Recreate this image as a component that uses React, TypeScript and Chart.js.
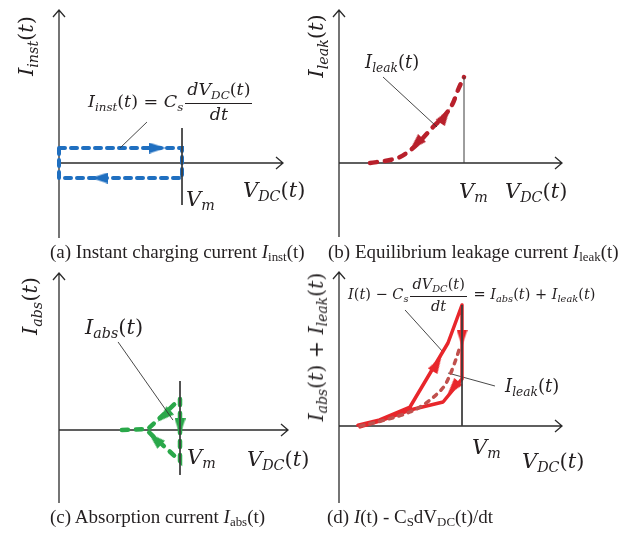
import React, { useEffect, useRef } from "react";
import { Chart, registerables } from "chart.js";
Chart.register(...registerables);

// ---------- data (V normalised to Vm = 1, currents in arbitrary units) ----------
// (a) instant charging current loop
const instV = [0, 1, 1, 0, 0];
const instI = [1, 1, -1, -1, 1];
const instArrowV = [0.8, 0.33];
const instArrowI = [1, -1];
const instArrowDir = [0, 180];

// (b) equilibrium leakage current
const leakBV = [0.248, 0.408, 0.488, 0.592, 0.672, 0.752, 0.848, 0.912, 0.952, 1.0];
const leakBI = [0, 0.035, 0.07, 0.174, 0.291, 0.419, 0.558, 0.698, 0.849, 1.0];
const leakBArrowV = [0.848, 0.616];
const leakBArrowI = [0.547, 0.221];
const leakBArrowDir = [-56, 135];

// (c) absorption current
const absV = [0.52, 0.735, 1.0, 1.0, 0.74];
const absI = [0, 0.03, 1.0, -1.0, -0.06];
const absArrowV = [0.868, 1.0, 0.793];
const absArrowI = [0.45, 0.1, -0.29];
const absArrowDir = [138, 90, 223];

// (d) total (absorption + leakage) loop and leakage curve
const totV = [0.154, 0.33, 0.577, 0.886, 1.0, 1.0, 0.846, 0.577, 0.358, 0.171];
const totI = [0.01, 0.07, 0.221, 0.965, 1.407, 0.547, 0.279, 0.186, 0.07, -0.01];
const leakDV = [0.171, 0.374, 0.577, 0.659, 0.74, 0.805, 0.862, 0.902, 0.943, 0.984];
const leakDI = [0, 0.07, 0.163, 0.221, 0.302, 0.384, 0.477, 0.593, 0.744, 0.919];
const totArrowV = [0.797, 1.0, 0.927];
const totArrowI = [0.721, 1.023, 0.442];
const totArrowDir = [-59, 90, 130];

// guide lines (Vm markers and label leaders), [v0, v1], [i0, i1]
const vmA = { v: [1, 1], i: [2.33, -2.8] };
const leaderA = { v: [0.496, 0.715], i: [1, 2.73] };
const vmB = { v: [1, 1], i: [0, 1.0] };
const leaderB = { v: [0.352, 0.784], i: [1.0, 0.419] };
const vmC = { v: [1, 1], i: [1.58, -1.45] };
const leaderC = { v: [0.488, 0.942], i: [2.84, 0.32] };
const vmD = { v: [1, 1], i: [1.407, 0] };
const leaderD1 = { v: [0.537, 0.846], i: [1.349, 0.86] };
const leaderD2 = { v: [0.886, 1.268], i: [0.616, 0.465] };

// ---------- helpers ----------
const pts = (xs: number[], ys: number[]) => xs.map((x, k) => ({ x, y: ys[k] }));

const INK = "#231f20";
const AXIS = "#2b2b2b";

function arrowImage(color: string, len = 17, wid = 11) {
  const c = document.createElement("canvas");
  c.width = len;
  c.height = wid;
  const g = c.getContext("2d")!;
  g.fillStyle = color;
  g.beginPath();
  g.moveTo(0, 0);
  g.lineTo(len, wid / 2);
  g.lineTo(0, wid);
  g.closePath();
  g.fill();
  return c;
}

type Geo = {
  left: number; top: number; w: number; h: number;
  ox: number; oy: number; ux: number; uy: number;
  yTop: number; yBot: number; xRight: number;
};

const axesPlugin = (geo: Geo) => ({
  id: "axesArrows",
  beforeDatasetsDraw(chart: any) {
    const ctx = chart.ctx;
    const x0 = chart.scales.x.getPixelForValue(0);
    const y0 = chart.scales.y.getPixelForValue(0);
    ctx.save();
    ctx.strokeStyle = AXIS;
    ctx.lineWidth = 1.3;
    ctx.beginPath();
    ctx.moveTo(x0, geo.yBot);
    ctx.lineTo(x0, geo.yTop);
    ctx.moveTo(x0, y0);
    ctx.lineTo(geo.xRight, y0);
    ctx.moveTo(x0 - 6, geo.yTop + 7);
    ctx.lineTo(x0, geo.yTop);
    ctx.lineTo(x0 + 6, geo.yTop + 7);
    ctx.moveTo(geo.xRight - 7, y0 - 6);
    ctx.lineTo(geo.xRight, y0);
    ctx.lineTo(geo.xRight - 7, y0 + 6);
    ctx.stroke();
    ctx.restore();
  },
});

const guide = (g: { v: number[]; i: number[] }, color = "#3c3c3c", width = 1) => ({
  data: pts(g.v, g.i),
  showLine: true,
  borderColor: color,
  borderWidth: width,
  pointRadius: 0,
});

function Panel({ geo, datasets }: { geo: Geo; datasets: () => any[] }) {
  const ref = useRef<HTMLCanvasElement>(null);
  useEffect(() => {
    const xmin = -geo.ox / geo.ux;
    const xmax = (geo.w - geo.ox) / geo.ux;
    const ymax = geo.oy / geo.uy;
    const ymin = -(geo.h - geo.oy) / geo.uy;
    const chart = new Chart(ref.current!, {
      type: "scatter",
      data: { datasets: datasets() },
      options: {
        animation: false,
        responsive: false,
        maintainAspectRatio: false,
        layout: { padding: 0, autoPadding: false },
        events: [],
        scales: {
          x: { type: "linear", display: false, min: xmin, max: xmax },
          y: { type: "linear", display: false, min: ymin, max: ymax },
        },
        plugins: { legend: { display: false }, tooltip: { enabled: false } },
        elements: { line: { tension: 0 } },
      } as any,
      plugins: [axesPlugin(geo)],
    });
    return () => chart.destroy();
  }, []);
  return (
    <canvas
      ref={ref}
      width={geo.w}
      height={geo.h}
      style={{ position: "absolute", left: geo.left, top: geo.top, width: geo.w, height: geo.h }}
    />
  );
}

const GEO_A: Geo = { left: 0, top: 0, w: 320, h: 260, ox: 59, oy: 163, ux: 123, uy: 15, yTop: 10, yBot: 238, xRight: 283 };
const GEO_B: Geo = { left: 320, top: 0, w: 320, h: 260, ox: 19, oy: 163, ux: 125, uy: 86, yTop: 10, yBot: 237, xRight: 242 };
const GEO_C: Geo = { left: 0, top: 260, w: 320, h: 273, ox: 59, oy: 170, ux: 121, uy: 31, yTop: 13, yBot: 243, xRight: 288 };
const GEO_D: Geo = { left: 320, top: 260, w: 320, h: 273, ox: 19, oy: 166, ux: 123, uy: 86, yTop: 12, yBot: 243, xRight: 242 };

const BLUE = "#1f6fc0";
const DARKRED = "#b8202b";
const GREEN = "#2aa84a";
const RED = "#e8262b";
const ROSE = "#c0504d";

const arrowSet = (v: number[], i: number[], dir: number[], color: string) => ({
  data: pts(v, i),
  showLine: false,
  pointStyle: arrowImage(color),
  pointRotation: dir,
  pointRadius: 5,
});

const dsA = () => [
  guide(vmA),
  guide(leaderA, "#333", 0.9),
  {
    data: pts(instV, instI),
    showLine: true,
    borderColor: BLUE,
    borderWidth: 4,
    borderDash: [6, 6],
    borderCapStyle: "round",
    pointRadius: 0,
  },
  arrowSet(instArrowV, instArrowI, instArrowDir, BLUE),
];

const dsB = () => [
  guide(vmB),
  guide(leaderB, "#333", 0.9),
  {
    data: pts(leakBV, leakBI),
    showLine: true,
    borderColor: DARKRED,
    borderWidth: 4.5,
    borderDash: [7, 8],
    borderCapStyle: "round",
    cubicInterpolationMode: "monotone",
    pointRadius: 0,
  },
  arrowSet(leakBArrowV, leakBArrowI, leakBArrowDir, DARKRED),
];

const dsC = () => [
  guide(vmC),
  guide(leaderC, "#333", 0.9),
  {
    data: pts(absV, absI),
    showLine: true,
    borderColor: GREEN,
    borderWidth: 4.5,
    borderDash: [6, 8],
    borderCapStyle: "round",
    pointRadius: 0,
  },
  arrowSet(absArrowV, absArrowI, absArrowDir, GREEN),
];

const dsD = () => [
  guide(vmD),
  {
    data: pts(leakDV, leakDI),
    showLine: true,
    borderColor: ROSE,
    borderWidth: 3.5,
    borderDash: [4, 6],
    borderCapStyle: "round",
    cubicInterpolationMode: "monotone",
    pointRadius: 0,
  },
  {
    data: pts(totV, totI),
    showLine: true,
    borderColor: RED,
    borderWidth: 3.5,
    borderJoinStyle: "round",
    borderCapStyle: "round",
    pointRadius: 0,
  },
  guide(leaderD1, "#333", 0.9),
  guide(leaderD2, "#333", 0.9),
  arrowSet(totArrowV, totArrowI, totArrowDir, RED),
];

// ---------- text helpers ----------
const MATH = "'DejaVu Serif', serif";
const CAP = "'Liberation Serif', 'Times New Roman', serif";

const Sub = ({ children }: { children: any }) => (
  <span style={{ fontSize: "0.68em", verticalAlign: "-0.3em", fontStyle: "italic" }}>{children}</span>
);
const Fn = ({ b, s }: { b: string; s?: string }) => (
  <span>
    <i>{b}</i>
    {s ? <Sub>{s}</Sub> : null}(<i>t</i>)
  </span>
);
const Txt = ({ x, y, size, children, font = MATH }: any) => (
  <div
    style={{
      position: "absolute",
      left: x,
      top: y,
      fontSize: size,
      fontFamily: font,
      color: INK,
      whiteSpace: "nowrap",
      lineHeight: 1,
    }}
  >
    {children}
  </div>
);
const YLab = ({ cx, cy, size, children }: any) => (
  <div
    style={{
      position: "absolute",
      left: cx,
      top: cy,
      fontSize: size,
      fontFamily: MATH,
      color: INK,
      whiteSpace: "nowrap",
      lineHeight: 1,
      transform: "translate(-50%, -50%) rotate(-90deg)",
    }}
  >
    {children}
  </div>
);
const Frac = ({ num, den }: any) => (
  <span
    style={{
      display: "inline-flex",
      flexDirection: "column",
      alignItems: "center",
      verticalAlign: "middle",
      margin: "0 2px",
    }}
  >
    <span style={{ borderBottom: `1.4px solid ${INK}`, padding: "0 2px 2px" }}>{num}</span>
    <span style={{ paddingTop: 2 }}>{den}</span>
  </span>
);
const CapSub = ({ children }: any) => (
  <span style={{ fontSize: "0.68em", verticalAlign: "-0.2em" }}>{children}</span>
);

export default function App() {
  return (
    <div style={{ position: "fixed", left: 0, top: 0, width: 640, height: 533, background: "#fff", overflow: "hidden" }}>
      <Panel geo={GEO_A} datasets={dsA} />
      <Panel geo={GEO_B} datasets={dsB} />
      <Panel geo={GEO_C} datasets={dsC} />
      <Panel geo={GEO_D} datasets={dsD} />

      {/* (a) */}
      <YLab cx={28} cy={46} size={21}><Fn b="I" s="inst" /></YLab>
      <Txt x={88} y={81} size={17.5}>
        <Fn b="I" s="inst" /> = <i>C</i><Sub>s</Sub>
        <Frac num={<><i>dV</i><Sub>DC</Sub>(<i>t</i>)</>} den={<i>dt</i>} />
      </Txt>
      <Txt x={243} y={180} size={21}><Fn b="V" s="DC" /></Txt>
      <Txt x={186} y={189} size={21}><i>V</i><Sub>m</Sub></Txt>
      <Txt x={50} y={242} size={19} font={CAP}>
        (a) Instant charging current <i>I</i><CapSub>inst</CapSub>(t)
      </Txt>

      {/* (b) */}
      <YLab cx={318} cy={46} size={21}><Fn b="I" s="leak" /></YLab>
      <Txt x={365} y={53} size={18}><Fn b="I" s="leak" /></Txt>
      <Txt x={459} y={181} size={21}><i>V</i><Sub>m</Sub></Txt>
      <Txt x={505} y={181} size={21}><Fn b="V" s="DC" /></Txt>
      <Txt x={328} y={242} size={19} font={CAP}>
        (b) Equilibrium leakage current <i>I</i><CapSub>leak</CapSub>(t)
      </Txt>

      {/* (c) */}
      <YLab cx={32} cy={306} size={21}><Fn b="I" s="abs" /></YLab>
      <Txt x={85} y={317} size={21}><Fn b="I" s="abs" /></Txt>
      <Txt x={187} y={447} size={21}><i>V</i><Sub>m</Sub></Txt>
      <Txt x={247} y={449} size={21}><Fn b="V" s="DC" /></Txt>
      <Txt x={50} y={507} size={19} font={CAP}>
        (c) Absorption current <i>I</i><CapSub>abs</CapSub>(t)
      </Txt>

      {/* (d) */}
      <YLab cx={318} cy={347} size={20.5}>
        <Fn b="I" s="abs" /> + <Fn b="I" s="leak" />
      </YLab>
      <Txt x={348} y={277} size={14.5}>
        <i>I</i>(<i>t</i>) − <i>C</i><Sub>s</Sub>
        <Frac num={<><i>dV</i><Sub>DC</Sub>(<i>t</i>)</>} den={<i>dt</i>} /> = <Fn b="I" s="abs" /> + <Fn b="I" s="leak" />
      </Txt>
      <Txt x={505} y={377} size={18}><Fn b="I" s="leak" /></Txt>
      <Txt x={472} y={437} size={21}><i>V</i><Sub>m</Sub></Txt>
      <Txt x={522} y={451} size={21}><Fn b="V" s="DC" /></Txt>
      <Txt x={327} y={507} size={19} font={CAP}>
        (d) <i>I</i>(t) - C<CapSub>S</CapSub>dV<CapSub>DC</CapSub>(t)/dt
      </Txt>
    </div>
  );
}
